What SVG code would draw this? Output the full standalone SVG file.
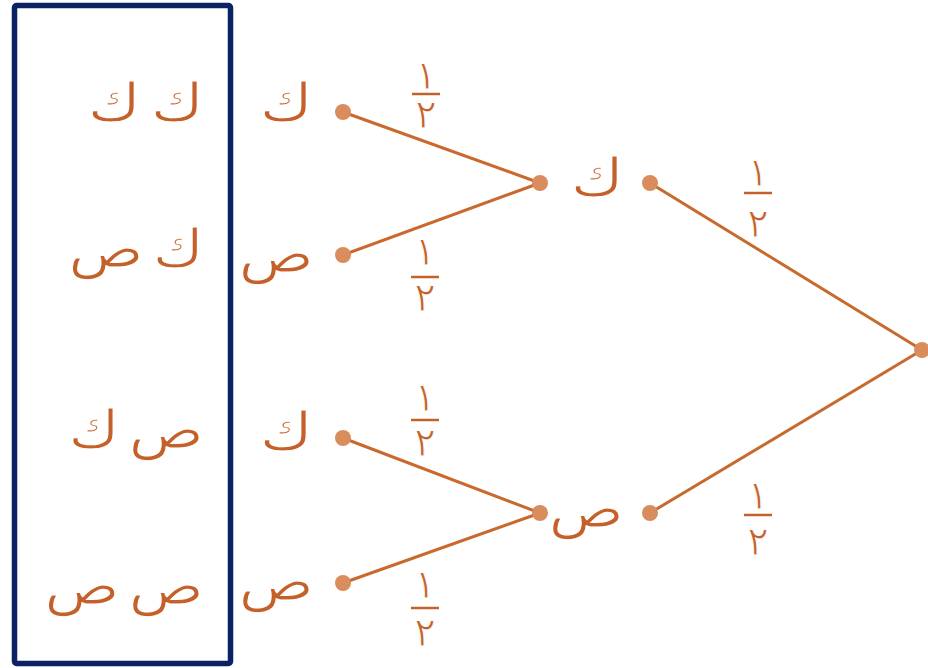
<svg xmlns="http://www.w3.org/2000/svg" width="928" height="668" viewBox="0 0 928 668">
<style>
.lbl{font-family:"DejaVu Sans",sans-serif;font-size:52px;fill:#c4612a;text-anchor:end;stroke:#ffffff;stroke-width:1.2;word-spacing:-9px}
.num{font-family:"DejaVu Sans",sans-serif;font-size:40px;fill:#c4612a;text-anchor:middle;stroke:#ffffff;stroke-width:1}
.bar{stroke:#c4612a;stroke-width:2.5}
.edge{stroke:#c8692d;stroke-width:3;fill:none}
.dot{fill:#d98c5c}
</style>
<rect width="928" height="668" fill="#ffffff"/>
<g id="box"><rect x="14.5" y="5.5" width="216" height="658" rx="2" fill="none" stroke="#0b2364" stroke-width="5.5"/></g>
<g id="connectors">
<line class="edge" x1="922" y1="350" x2="650" y2="183"/>
<line class="edge" x1="922" y1="350" x2="650" y2="513"/>
<line class="edge" x1="540" y1="183" x2="343" y2="112"/>
<line class="edge" x1="540" y1="183" x2="343" y2="255"/>
<line class="edge" x1="540" y1="513" x2="343" y2="438"/>
<line class="edge" x1="540" y1="513" x2="343" y2="583"/>
</g>
<g id="root"><circle class="dot" cx="922" cy="350" r="8"/></g>
<g id="mid-k"><circle class="dot" cx="650" cy="183" r="8"/><text class="lbl" transform="translate(624,196) scale(1.25,1)">ك</text><circle class="dot" cx="540" cy="183" r="8"/></g>
<g id="mid-s"><circle class="dot" cx="650" cy="513" r="8"/><text class="lbl" transform="translate(624,527) scale(1.2,1)">ص</text><circle class="dot" cx="540" cy="513" r="8"/></g>
<g id="leaf-kk"><circle class="dot" cx="343" cy="112" r="8"/><text class="lbl" transform="translate(313,121) scale(1.25,1)">ك</text></g>
<g id="leaf-ks"><circle class="dot" cx="343" cy="255" r="8"/><text class="lbl" transform="translate(314,272) scale(1.2,1)">ص</text></g>
<g id="leaf-sk"><circle class="dot" cx="343" cy="438" r="8"/><text class="lbl" transform="translate(313,450) scale(1.25,1)">ك</text></g>
<g id="leaf-ss"><circle class="dot" cx="343" cy="583" r="8"/><text class="lbl" transform="translate(314,600) scale(1.2,1)">ص</text></g>
<g id="results">
<text class="lbl" transform="translate(204,121) scale(1.25,1)">ك ك</text>
<text class="lbl" transform="translate(204,267) scale(1.2,1)">ك ص</text>
<text class="lbl" transform="translate(204,448) scale(1.2,1)">ص ك</text>
<text class="lbl" transform="translate(204,604) scale(1.2,1)">ص ص</text>
</g>
<g id="probs">
<text class="num" x="426" y="89">١</text><line class="bar" x1="412" y1="94" x2="440" y2="94"/><text class="num" x="426" y="128">٢</text>
<text class="num" x="425" y="265">١</text><line class="bar" x1="411" y1="277" x2="439" y2="277"/><text class="num" x="425" y="311">٢</text>
<text class="num" x="425" y="411">١</text><line class="bar" x1="411" y1="420" x2="439" y2="420"/><text class="num" x="425" y="456">٢</text>
<text class="num" x="425" y="598">١</text><line class="bar" x1="411" y1="608" x2="439" y2="608"/><text class="num" x="425" y="646">٢</text>
<text class="num" x="758" y="186">١</text><line class="bar" x1="744" y1="193" x2="772" y2="193"/><text class="num" x="758" y="237">٢</text>
<text class="num" x="758" y="509">١</text><line class="bar" x1="744" y1="515" x2="772" y2="515"/><text class="num" x="758" y="555">٢</text>
</g>
</svg>
